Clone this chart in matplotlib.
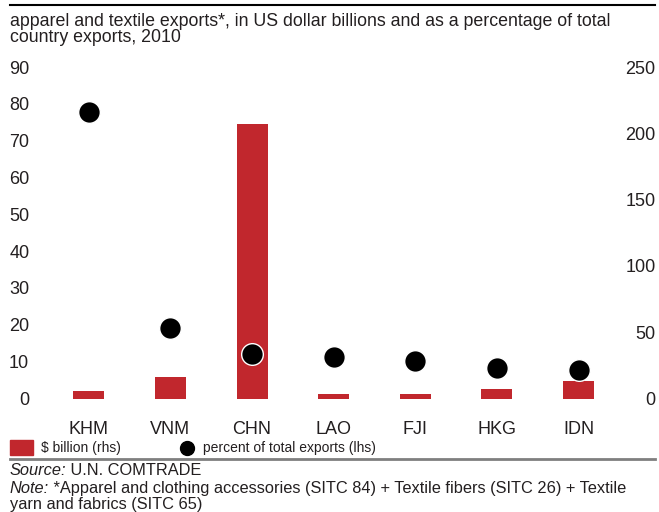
import matplotlib
matplotlib.use("Agg")
import matplotlib.pyplot as plt
from matplotlib.lines import Line2D
from matplotlib.patches import Rectangle

# apparel + textile exports, 2010
countries = ["KHM", "VNM", "CHN", "LAO", "FJI", "HKG", "IDN"]
usd_bn = [5.9, 16.2, 207.3, 3.4, 3.4, 7.2, 13.2]          # rhs
pct_exports = [77.8, 19.2, 12.0, 11.2, 10.2, 8.4, 7.7]    # lhs
lhs_ticks = list(range(0, 91, 10))
rhs_ticks = list(range(0, 251, 50))

RED = "#c1272d"
INK = "#231f20"
SANS = ["Liberation Sans", "DejaVu Sans"]
plt.rcParams["font.family"] = SANS

W, H = 659, 512
fig = plt.figure(figsize=(W / 100, H / 100), dpi=100)


def fx(px):
    return px / W


def fy(py):
    return 1 - py / H


ax = fig.add_axes([fx(48), fy(398.5), fx(619.4 - 48), 331.5 / H])
ax2 = ax.twinx()

x = list(range(len(countries)))
ax2.bar(x, usd_bn, width=0.38, color=RED, zorder=2)
ax.plot(x, pct_exports, "o", color="black", markersize=15.6,
        markeredgecolor="white", markeredgewidth=1, zorder=3)

# dots drawn above the bars
ax.set_zorder(ax2.get_zorder() + 1)
ax.patch.set_visible(False)

ax.set_xlim(-0.5, 6.5)
ax.set_ylim(0, 90)
ax2.set_ylim(0, 250)
ax.set_yticks(lhs_ticks)
ax2.set_yticks(rhs_ticks)
ax.set_xticks(x)
ax.set_xticklabels(countries, fontsize=13, color=INK)

for a in (ax, ax2):
    for s in a.spines.values():
        s.set_visible(False)
    a.tick_params(length=0)

ax.tick_params(axis="y", pad=13.5, labelsize=13, labelcolor=INK)
ax.tick_params(axis="x", pad=16)
ax2.tick_params(axis="y", pad=26, labelsize=13, labelcolor=INK)
for lab in ax2.get_yticklabels():
    lab.set_horizontalalignment("right")

# header rule and title
fig.add_artist(Line2D([fx(10), fx(655)], [fy(5), fy(5)], color="black", lw=1.5))
fig.text(fx(10), fy(26), "apparel and textile exports*, in US dollar billions and as a percentage of total",
         fontsize=12.8, color=INK, va="baseline")
fig.text(fx(10), fy(42.5), "country exports, 2010",
         fontsize=12.8, color=INK, va="baseline")

# legend
fig.add_artist(Rectangle((fx(10), fy(455)), fx(23), 15 / H, color=RED))
fig.text(fx(41), fy(448), r"\$ billion (rhs)", fontsize=10,
         color=INK, va="center")
fig.add_artist(Line2D([fx(187)], [fy(447.5)], marker="o", color="black",
                      markersize=10, linestyle="none"))
fig.text(fx(203), fy(448), "percent of total exports (lhs)",
         fontsize=10, color=INK, va="center")
fig.add_artist(Line2D([fx(10), fx(655)], [fy(459), fy(459)], color="#7f7f7f", lw=2))

# footer: italic label followed by upright text
renderer = fig.canvas.get_renderer()
footer = [(475, "Source:", " U.N. COMTRADE"),
          (493, "Note:", " *Apparel and clothing accessories (SITC 84) + Textile fibers (SITC 26) + Textile")]
for base, head, rest in footer:
    lab = fig.text(fx(10), fy(base), head, style="italic", fontsize=11.8,
                   color=INK, va="baseline")
    bb = lab.get_window_extent(renderer)
    fig.text(bb.x1 / fig.bbox.width, fy(base), rest, fontsize=11.8,
             color=INK, va="baseline")
fig.text(fx(10), fy(508.5), "yarn and fabrics (SITC 65)", fontsize=11.8,
         color=INK, va="baseline")

fig.savefig("out.png", dpi=100)
